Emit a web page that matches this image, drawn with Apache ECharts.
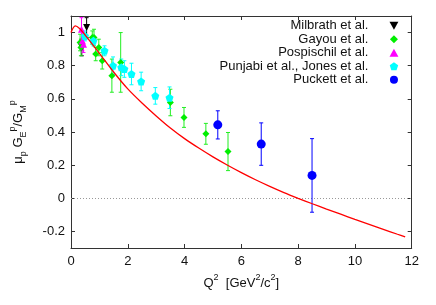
<!DOCTYPE html>
<html><head><meta charset="utf-8">
<script src="https://cdn.jsdelivr.net/npm/echarts@6/dist/echarts.min.js"></script>
<style>html,body{margin:0;padding:0;background:#fff}#c{width:436px;height:305px}</style>
</head><body><div id="c"></div>
<script>
// ---- data ----
const yTickValues = [-0.2, 0, 0.2, 0.4, 0.6, 0.8, 1];

const milbrathQ2  = [0.38, 0.55];
const milbrathR   = [0.91, 1.03];
const milbrathErr = [0.05, 0.06];

const gayouQ2  = [0.32, 0.35, 0.75, 0.81, 0.87, 0.98, 1.10, 1.44, 1.75, 3.50, 3.98, 4.75, 5.53];
const gayouR   = [0.94, 0.91, 0.97, 0.97, 0.87, 0.91, 0.83, 0.74, 0.82, 0.578, 0.488, 0.389, 0.282];
const gayouErr = [0.05, 0.05, 0.04, 0.05, 0.04, 0.05, 0.05, 0.10, 0.18, 0.08, 0.06, 0.063, 0.115];

const pospQ2  = [0.37, 0.40, 0.44];
const pospR   = [1.02, 0.95, 0.93];
const pospErr = [0.07, 0.06, 0.05];

const punjQ2  = [0.49, 0.79, 1.18, 1.48, 1.77, 1.88, 2.13, 2.47, 2.97, 3.47];
const punjR   = [0.98, 0.95, 0.89, 0.80, 0.79, 0.78, 0.75, 0.705, 0.618, 0.607];
const punjErr = [0.03, 0.03, 0.03, 0.053, 0.05, 0.05, 0.065, 0.056, 0.05, 0.065];

const puckQ2  = [5.17, 6.70, 8.49];
const puckR   = [0.443, 0.327, 0.138];
const puckErr = [0.085, 0.128, 0.222];

const curveQ2 = [0, 0.15, 0.3, 0.5, 1.0, 1.5, 2.0, 2.5, 3.0, 3.5, 4.0, 4.5, 5.0, 5.5, 6.0, 6.5, 7.0, 7.5, 8.0, 8.5, 9.0, 9.5, 10.0, 10.5, 11.0, 11.5, 11.77];
const curveR  = [1.0, 1.04, 1.025, 0.985, 0.875, 0.762, 0.66, 0.575, 0.497, 0.424, 0.36, 0.303, 0.25, 0.201, 0.155, 0.112, 0.072, 0.0345, 0.0, -0.033, -0.065, -0.096, -0.127, -0.157, -0.187, -0.217, -0.233];

// ---- styling ----
const FONT = 'Liberation Sans, Arial, Helvetica, sans-serif';
const AX = '#333';
const DOWN_TRI = 'path://M0,0 L10,0 L5,9 Z';
const UP_TRI = 'path://M5,0 L10,9 L0,9 Z';
const DIAMOND = 'path://M5,0 L10,5 L5,10 L0,5 Z';
const PENTAGON = 'path://M50,0 L97.6,34.5 L79.4,90.5 L20.6,90.5 L2.4,34.5 Z';

function pts(xs, ys) { return xs.map((x, i) => [x, ys[i]]); }
function errPts(xs, ys, es) { return xs.map((x, i) => [x, ys[i], es[i]]); }

function errSeries(name, xs, ys, es, color) {
  return {
    type: 'custom', name: name + ' err', z: 2, silent: true,
    encode: { x: 0, y: 1 },
    data: errPts(xs, ys, es),
    renderItem: function (params, api) {
      const x = api.value(0), y = api.value(1), e = api.value(2);
      const t = api.coord([x, y + e]), b = api.coord([x, y - e]);
      const w = 2;
      const st = { stroke: color, lineWidth: 1 };
      return { type: 'group', children: [
        { type: 'line', shape: { x1: t[0], y1: t[1], x2: b[0], y2: b[1] }, style: st },
        { type: 'line', shape: { x1: t[0] - w, y1: t[1], x2: t[0] + w, y2: t[1] }, style: st },
        { type: 'line', shape: { x1: b[0] - w, y1: b[1], x2: b[0] + w, y2: b[1] }, style: st }
      ]};
    }
  };
}
function scat(name, xs, ys, symbol, size, color) {
  return { type: 'scatter', name: name, z: 3, symbol: symbol, symbolSize: size,
    itemStyle: { color: color, opacity: 1 }, data: pts(xs, ys) };
}

const supRich = {
  n: { fontSize: 13, fontFamily: FONT, color: '#111', lineHeight: 20 },
  sup: { fontSize: 9, fontFamily: FONT, color: '#111', lineHeight: 9, verticalAlign: 'top' },
  sub: { fontSize: 9, fontFamily: FONT, color: '#111', lineHeight: 9, verticalAlign: 'bottom' }
};

const chart = echarts.init(document.getElementById('c'), null, { renderer: 'canvas' });
chart.setOption({
  animation: false,
  backgroundColor: '#fff',
  grid: { left: 65, right: 24.3, top: 16, bottom: 57, containLabel: false },
  legend: {
    orient: 'vertical', align: 'right', right: 37.6, top: 19, padding: 0,
    itemGap: 0, itemWidth: 41, itemHeight: 8, selectedMode: false,
    textStyle: { fontSize: 13, fontFamily: FONT, color: '#111', lineHeight: 13.5 },
    data: [
      { name: 'Milbrath et al.', icon: DOWN_TRI },
      { name: 'Gayou et al.', icon: DIAMOND },
      { name: 'Pospischil et al.', icon: UP_TRI },
      { name: 'Punjabi et al., Jones et al.', icon: PENTAGON },
      { name: 'Puckett et al.', icon: 'circle' }
    ]
  },
  xAxis: [{
    type: 'value', min: 0, max: 12, interval: 2, position: 'bottom',
    axisLine: { show: true, onZero: false, lineStyle: { color: AX, width: 1 } },
    axisTick: { inside: true, length: 4, lineStyle: { color: AX } },
    axisLabel: { margin: 7, fontSize: 13, fontFamily: FONT, color: '#111' },
    splitLine: { show: false },
    name: '{n|Q}{sup|2}{n|  [GeV}{sup|2}{n|/c}{sup|2}{n|]}',
    nameLocation: 'middle', nameGap: 25,
    nameTextStyle: { rich: supRich }
  }, {
    type: 'value', min: 0, max: 12, interval: 2, position: 'top',
    axisLine: { show: true, onZero: false, lineStyle: { color: AX, width: 1 } },
    axisTick: { inside: true, length: 4, lineStyle: { color: AX } },
    axisLabel: { show: false }, splitLine: { show: false }
  }],
  yAxis: [{
    type: 'value', min: -0.3, max: 1.1, position: 'left',
    axisLine: { show: true, onZero: false, lineStyle: { color: AX, width: 1 } },
    axisTick: { inside: true, length: 4, lineStyle: { color: AX }, customValues: yTickValues },
    axisLabel: { margin: 6, fontSize: 13, fontFamily: FONT, color: '#111', customValues: yTickValues },
    splitLine: { show: false },
    name: '{n|μ}{sub|p}{n| G}{sub|E}{sup|p}{n|/G}{sub|M}{sup|p}',
    nameLocation: 'middle', nameGap: 43, nameRotate: 90,
    nameTextStyle: { rich: supRich }
  }, {
    type: 'value', min: -0.3, max: 1.1, position: 'right',
    axisLine: { show: true, onZero: false, lineStyle: { color: AX, width: 1 } },
    axisTick: { inside: true, length: 4, lineStyle: { color: AX }, customValues: yTickValues },
    axisLabel: { show: false }, splitLine: { show: false }
  }],
  series: [
    {
      type: 'line', name: 'fit', z: 4, smooth: 0.3, symbol: 'none', silent: true,
      lineStyle: { color: '#ff0000', width: 1.3 },
      data: pts(curveQ2, curveR),
      markLine: {
        silent: true, symbol: 'none', label: { show: false }, z: 1,
        lineStyle: { color: '#999', width: 1, type: [1, 2] },
        data: [{ yAxis: 0 }]
      }
    },
    errSeries('Milbrath et al.', milbrathQ2, milbrathR, milbrathErr, '#000000'),
    scat('Milbrath et al.', milbrathQ2, milbrathR, DOWN_TRI, 7, '#000000'),
    errSeries('Gayou et al.', gayouQ2, gayouR, gayouErr, '#22ee22'),
    scat('Gayou et al.', gayouQ2, gayouR, DIAMOND, 7, '#00ee00'),
    errSeries('Pospischil et al.', pospQ2, pospR, pospErr, '#ff00ff'),
    scat('Pospischil et al.', pospQ2, pospR, UP_TRI, 7, '#ff00ff'),
    errSeries('Punjabi et al., Jones et al.', punjQ2, punjR, punjErr, '#00ffff'),
    scat('Punjabi et al., Jones et al.', punjQ2, punjR, PENTAGON, 8, '#00ffff'),
    errSeries('Puckett et al.', puckQ2, puckR, puckErr, '#0000ff'),
    scat('Puckett et al.', puckQ2, puckR, 'circle', 9, '#0000ff')
  ]
});
</script></body></html>
